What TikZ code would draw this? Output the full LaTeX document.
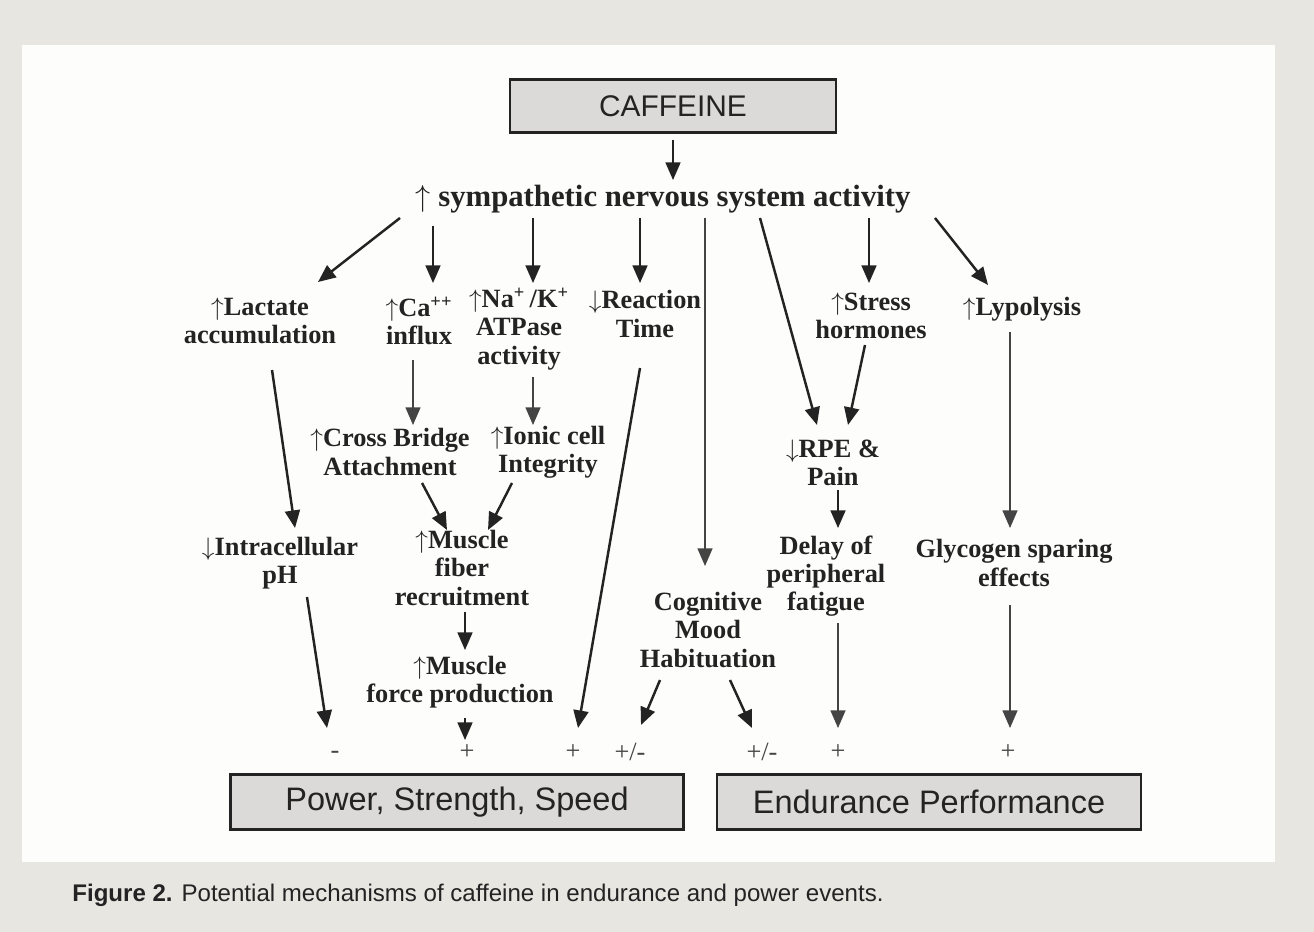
\documentclass[tikz,border=0pt]{standalone}
\usepackage{fontspec}
\setmainfont{Liberation Serif}
\setsansfont{Liberation Sans}
\usetikzlibrary{arrows.meta, calc}

\definecolor{pageclr}{RGB}{232,230,225}
\definecolor{panelclr}{RGB}{253,253,252}
\definecolor{boxclr}{RGB}{219,218,216}
\definecolor{ink}{RGB}{35,35,35}

\begin{document}
\begin{tikzpicture}[x=0.02cm, y=-0.02cm, >={Triangle[length=10pt, width=8.5pt]},
    txt/.style={font=\bfseries\fontsize{15}{16}\selectfont, align=center, text=ink, inner sep=1pt},
    sgn/.style={font=\fontsize{15}{16}\selectfont, text=ink!85, inner sep=1pt},
    box/.style={draw=ink, line width=1.2pt, fill=boxclr, font=\sffamily\fontsize{18.5}{20}\selectfont, text=ink},
    thk/.style={->, draw=ink, line width=1.4pt},
    med/.style={->, draw=ink, line width=1pt},
    thn/.style={->, draw=ink!85, line width=0.7pt}]
    % background
    \fill[pageclr] (0,0) rectangle (1314,932);
    \fill[panelclr] (22,45) rectangle (1275,862);

    % top
    \node[box, minimum width=6.52cm, minimum height=1.06cm, font=\sffamily\fontsize{17}{20}\selectfont] (caf) at (673,106) {CAFFEINE};
    \node[txt, font=\bfseries\fontsize{17.5}{19}\selectfont] (symp) at (663,199) {$\uparrow$ sympathetic nervous system activity};

    % first row
    \node[txt] (lact) at (260,321) {$\uparrow$Lactate\\accumulation};
    \node[txt] (ca) at (419,321) {$\uparrow$Ca\textsuperscript{++}\\influx};
    \node[txt] (nak) at (519,329) {$\uparrow$Na\textsuperscript{+}\,/K\textsuperscript{+}\\ATPase\\activity};
    \node[txt] (react) at (645,314) {$\downarrow$Reaction\\Time};
    \node[txt] (stress) at (871,316) {$\uparrow$Stress\\hormones};
    \node[txt] (lypo) at (1022,309) {$\uparrow$Lypolysis};

    % second row
    \node[txt] (cross) at (390,452) {$\uparrow$Cross Bridge\\Attachment};
    \node[txt] (ionic) at (548,452) {$\uparrow$Ionic cell\\Integrity};
    \node[txt] (rpe) at (833,463) {$\downarrow$RPE \&\\Pain};

    % third row
    \node[txt] (ph) at (280,563) {$\downarrow$Intracellular\\pH};
    \node[txt] (fiber) at (462,568) {$\uparrow$Muscle\\fiber\\recruitment};
    \node[txt] (delay) at (826,576) {Delay of\\peripheral\\fatigue};
    \node[txt] (glyc) at (1014,563) {Glycogen sparing\\effects};
    \node[txt] (cogn) at (708,630) {Cognitive\\Mood\\Habituation};
    \node[txt] (force) at (460,682) {$\uparrow$Muscle\\force production};

    % signs
    \node[sgn] (m1) at (335,755) {-};
    \node[sgn] (p1) at (467,752) {+};
    \node[sgn] (p2) at (573,752) {+};
    \node[sgn] (pm1) at (630,752) {+/-};
    \node[sgn] (pm2) at (762,752) {+/-};
    \node[sgn] (p3) at (838,752) {+};
    \node[sgn] (p4) at (1008,752) {+};

    % outcomes
    \node[box, minimum width=9.06cm, minimum height=1.1cm] (pss) at (457,802) {Power, Strength, Speed};
    \node[box, minimum width=8.48cm, minimum height=1.1cm] (endu) at (929,802) {Endurance Performance};

    % arrows from top
    \draw[med] ($(caf)+(0,34)$) -- ($(symp)+(10,-19)$);
    \draw[thk] ($(symp)+(-263,19)$) -- ($(lact)+(58,-39)$);
    \draw[med] ($(symp)+(-230,27)$) -- ($(ca)+(14,-38)$);
    \draw[med] ($(symp)+(-130,19)$) -- ($(nak)+(14,-46)$);
    \draw[med] ($(symp)+(-23,19)$) -- ($(react)+(-5,-31)$);
    \draw[thn] ($(symp)+(42,19)$) -- ($(cogn)+(-3,-64)$);
    \draw[thk] ($(symp)+(97,19)$) -- ($(rpe)+(-16,-38)$);
    \draw[med] ($(symp)+(206,19)$) -- ($(stress)+(-2,-33)$);
    \draw[thk] ($(symp)+(272,19)$) -- ($(lypo)+(-34,-24)$);

    % middle arrows
    \draw[thk] ($(lact)+(12,49)$) -- ($(ph)+(15,-35)$);
    \draw[thn] ($(ca)+(-6,39)$) -- ($(cross)+(23,-27)$);
    \draw[thn] ($(nak)+(14,48)$) -- ($(ionic)+(-15,-27)$);
    \draw[thk] ($(react)+(-5,54)$) -- ($(p2)+(5,-24)$);
    \draw[thk] ($(stress)+(-6,29)$) -- ($(rpe)+(15,-38)$);
    \draw[thn] ($(lypo)+(-12,23)$) -- ($(glyc)+(-4,-35)$);
    \draw[thk] ($(cross)+(32,31)$) -- ($(fiber)+(-15,-38)$);
    \draw[thk] ($(ionic)+(-36,31)$) -- ($(fiber)+(26,-38)$);
    \draw[med] ($(rpe)+(5,27)$) -- ($(delay)+(12,-48)$);

    % arrows to signs
    \draw[thk] ($(ph)+(27,34)$) -- ($(m1)+(-8,-27)$);
    \draw[med] ($(fiber)+(3,44)$) -- ($(force)+(5,-32)$);
    \draw[med] ($(force)+(5,36)$) -- ($(p1)+(-2,-12)$);
    \draw[thk] ($(cogn)+(-48,50)$) -- ($(pm1)+(11,-27)$);
    \draw[thk] ($(cogn)+(22,50)$) -- ($(pm2)+(-10,-24)$);
    \draw[thn] ($(delay)+(12,47)$) -- ($(p3)+(0,-24)$);
    \draw[thn] ($(glyc)+(-4,42)$) -- ($(p4)+(2,-24)$);

    % caption
    \node[anchor=west, font=\sffamily\fontsize{13.7}{16}\selectfont, text=ink, inner sep=0] (cap) at (72,895) {\textbf{Figure 2.} Potential mechanisms of caffeine in endurance and power events.};
\end{tikzpicture}
\end{document}
